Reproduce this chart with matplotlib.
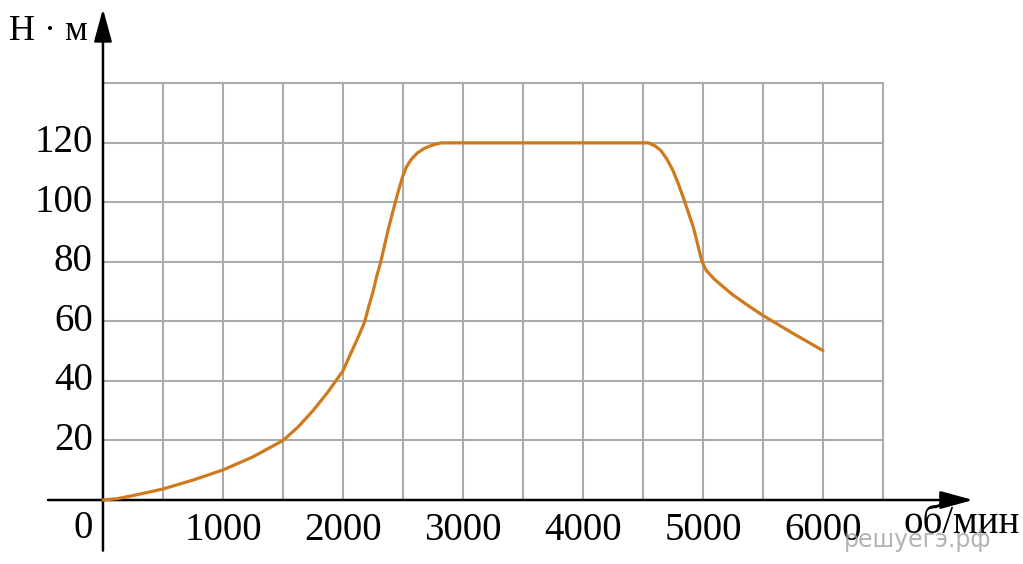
import matplotlib
matplotlib.use('Agg')
import matplotlib.pyplot as plt

# torque curve
rpm = [0, 125, 250, 500, 750, 1000, 1250, 1500, 1625, 1750, 1875, 2000,
       2070, 2130, 2180, 2215, 2250, 2280, 2315, 2345, 2375, 2405, 2436,
       2470, 2500, 2530, 2570, 2620, 2680, 2750, 2820, 3000, 3500, 4000,
       4500, 4545, 4600, 4650, 4700, 4750, 4800, 4850, 4885, 4920, 4955,
       4990, 5010, 5030, 5100, 5240, 5370, 5500, 5750, 6000]
torque = [0, 0.5, 1.5, 3.7, 6.7, 10.1, 14.5, 20, 24.5, 30, 36.3, 43.4,
          49.7, 55, 59.8, 65, 69.9, 75, 80, 85.3, 90.5, 95.3, 100,
          105, 109, 112, 114.5, 116.6, 118.2, 119.3, 120, 120, 120, 120,
          120, 120, 119, 117.4, 114.5, 110.7, 105.7, 100, 95.8, 91.6, 86,
          80.4, 78.5, 77, 74, 69.2, 65.5, 62, 56, 50.2]

x_ticks = [1000, 2000, 3000, 4000, 5000, 6000]
y_ticks = [20, 40, 60, 80, 100, 120]
x_label = 'об/мин'
y_label = 'Н · м'

serif = ['Liberation Serif', 'DejaVu Serif']
fs = 28

fig = plt.figure(figsize=(10.23, 5.64), dpi=100)
ax = fig.add_axes([0, 0, 1, 1])
ax.set_xlim(-858, 7667)
ax.set_ylim(-21.5, 168)
ax.axis('off')

# grid
grid_c = '#ababab'
for gx in range(500, 6501, 500):
    ax.plot([gx, gx], [0, 140], color=grid_c, lw=1.5, zorder=1)
for gy in range(20, 141, 20):
    ax.plot([0, 6500], [gy, gy], color=grid_c, lw=1.5, zorder=1)

# axes with arrows
arrow = dict(arrowstyle='-|>,head_length=2.0,head_width=0.55', color='black',
             lw=1.8, shrinkA=0, shrinkB=0)
ax.annotate('', xy=(7250, 0), xytext=(-458, 0), arrowprops=arrow, zorder=3)
ax.annotate('', xy=(0, 165), xytext=(0, -17), arrowprops=arrow, zorder=3)

ax.plot(rpm, torque, color='#d07a1e', lw=2.3, solid_joinstyle='round',
        solid_capstyle='round', zorder=4)

for t in x_ticks:
    ax.text(t, -13.6, str(t), ha='center', va='baseline', fontsize=fs, family=serif)
for t in y_ticks:
    ax.text(-85, t, str(t), ha='right', va='center', fontsize=fs, family=serif)
ax.text(-85, -12.8, '0', ha='right', va='baseline', fontsize=fs, family=serif)

ax.text(-780, 157.5, y_label, ha='left', va='center', fontsize=fs - 2, family=serif)
ax.text(7640, -11.1, x_label, ha='right', va='baseline', fontsize=fs, family=serif)
ax.text(7400, -13.5, 'решуегэ.рф', ha='right', va='center', fontsize=17,
        color='#a0a0a0', alpha=0.8, family=['DejaVu Sans'])

fig.savefig('out.png', dpi=100)
